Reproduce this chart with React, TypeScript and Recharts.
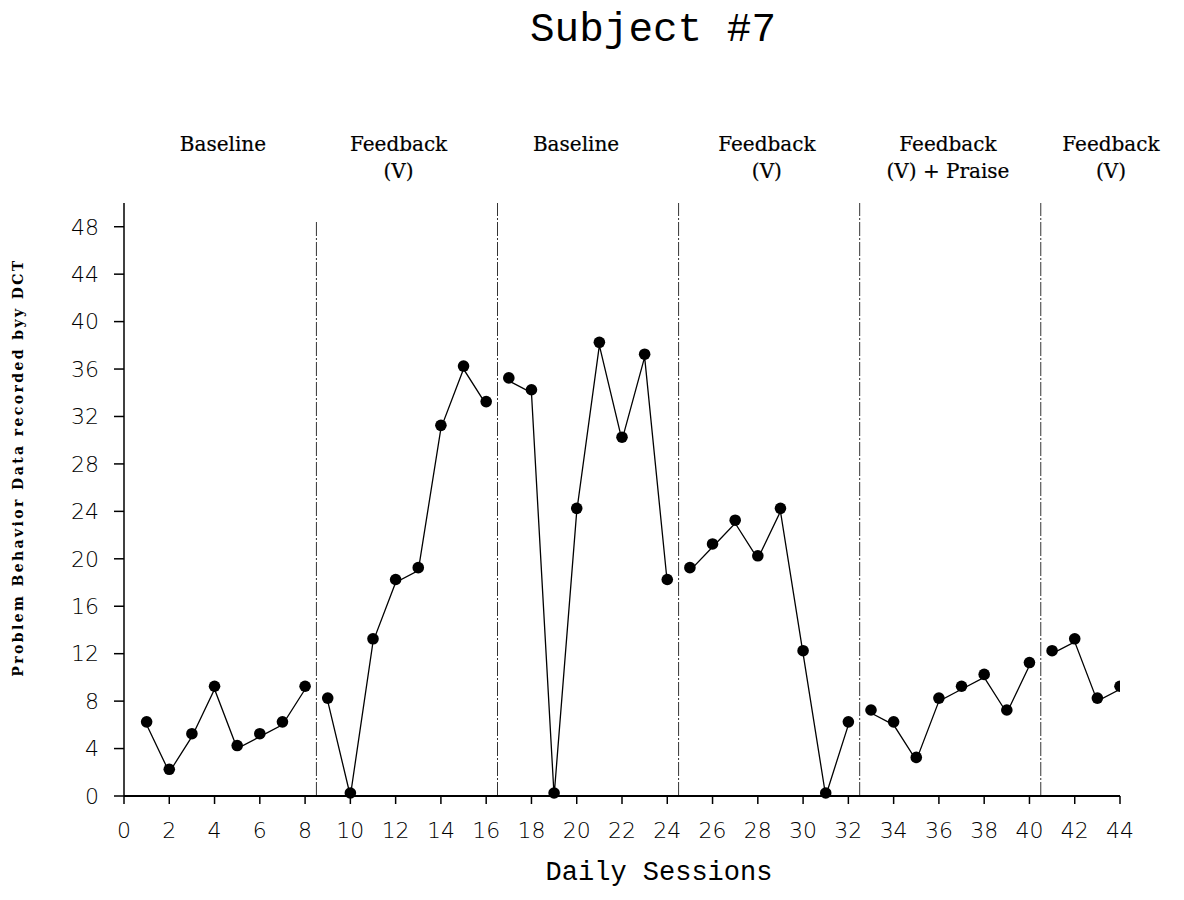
import React from "react";
import { LineChart, Line, XAxis, YAxis, ReferenceLine } from "recharts";

const phase1Sessions = [1, 2, 3, 4, 5, 6, 7, 8];
const phase1Values = [6, 2, 5, 9, 4, 5, 6, 9];
const phase2Sessions = [9, 10, 11, 12, 13, 14, 15, 16];
const phase2Values = [8, 0, 13, 18, 19, 31, 36, 33];
const phase3Sessions = [17, 18, 19, 20, 21, 22, 23, 24];
const phase3Values = [35, 34, 0, 24, 38, 30, 37, 18];
const phase4Sessions = [25, 26, 27, 28, 29, 30, 31, 32];
const phase4Values = [19, 21, 23, 20, 24, 12, 0, 6];
const phase5Sessions = [33, 34, 35, 36, 37, 38, 39, 40];
const phase5Values = [7, 6, 3, 8, 9, 10, 7, 11];
const phase6Sessions = [41, 42, 43, 44];
const phase6Values = [12, 13, 8, 9];

const phaseBoundaries = [8.5, 16.5, 24.5, 32.5, 40.5];
const phaseBoundaryTops = [48.5, 50, 50, 50, 50];
const phaseLabelX = [4.37, 12.13, 19.97, 28.4, 36.4, 43.6];
const phaseLabelLines = [
  ["Baseline"],
  ["Feedback", "(V)"],
  ["Baseline"],
  ["Feedback", "(V)"],
  ["Feedback", "(V) + Praise"],
  ["Feedback", "(V)"],
];

const xTicks = [0, 2, 4, 6, 8, 10, 12, 14, 16, 18, 20, 22, 24, 26, 28, 30, 32, 34, 36, 38, 40, 42, 44];
const yTicks = [0, 4, 8, 12, 16, 20, 24, 28, 32, 36, 40, 44, 48];

const title = "Subject #7";
const xLabel = "Daily Sessions";
const yLabel = "Problem Behavior Data recorded byy DCT";

const toRows = (s: number[], v: number[]) => s.map((x, i) => ({ session: x, value: v[i] }));
const phases = [
  toRows(phase1Sessions, phase1Values),
  toRows(phase2Sessions, phase2Values),
  toRows(phase3Sessions, phase3Values),
  toRows(phase4Sessions, phase4Values),
  toRows(phase5Sessions, phase5Values),
  toRows(phase6Sessions, phase6Values),
];

const tickFont = { fontFamily: "'DejaVu Sans', sans-serif", fontSize: 22, fill: "#000", fontWeight: 300 };

const Dot = (p: any) => {
  if (p.cx == null || p.cy == null) return null;
  return <circle cx={p.cx} cy={p.cy - 3} r={5.8} fill="#000" stroke="none" />;
};

const PhaseLabel = (lines: string[]) => (props: any) => {
  const vb = props.viewBox || {};
  const x = vb.x;
  const top = vb.y;
  return (
    <g>
      {lines.map((t, i) => (
        <text
          key={i}
          x={x}
          y={top - 52 + i * 27}
          textAnchor="middle"
          fontFamily="'DejaVu Serif', serif"
          fontSize={20}
          fill="#000"
          stroke="#000"
          strokeWidth={0.2}
        >
          {t}
        </text>
      ))}
    </g>
  );
};

const YLabel = (props: any) => {
  const vb = props.viewBox || {};
  const cx = 18;
  const cy = vb.y + vb.height / 2 - 32;
  return (
    <text
      x={cx}
      y={cy}
      transform={`rotate(-90, ${cx}, ${cy})`}
      textAnchor="middle"
      dominantBaseline="central"
      fontFamily="'DejaVu Serif', serif"
      fontWeight="bold"
      fontSize={14}
      letterSpacing={2.4}
      fill="#000"
    >
      {yLabel}
    </text>
  );
};

const XLabel = (props: any) => {
  const vb = props.viewBox || {};
  return (
    <text
      x={vb.x + vb.width / 2 + 37}
      y={vb.y + 84}
      textAnchor="middle"
      fontFamily="'Liberation Mono', monospace"
      fontSize={27}
      fill="#000"
    >
      {xLabel}
    </text>
  );
};

export default function App() {
  return (
    <div style={{ position: "absolute", left: 0, top: 0, width: 1184, height: 900, background: "#fff" }}>
      <div
        style={{
          position: "absolute",
          left: 653,
          top: 5,
          transform: "translateX(-50%)",
          fontFamily: "'Liberation Mono', monospace",
          fontSize: 41,
          lineHeight: "50px",
          whiteSpace: "nowrap",
          color: "#000",
        }}
      >
        {title}
      </div>
      <LineChart width={1184} height={900} margin={{ top: 203, right: 64, bottom: 0, left: 24 }}>
        <XAxis
          type="number"
          dataKey="session"
          domain={[0, 44]}
          ticks={xTicks}
          interval={0}
          allowDataOverflow
          height={104}
          tickSize={8}
          tickMargin={18}
          tick={tickFont}
          axisLine={{ stroke: "#000", strokeWidth: 2 }}
          tickLine={{ stroke: "#000", strokeWidth: 1.5 }}
          label={XLabel}
        />
        <YAxis
          type="number"
          domain={[0, 50]}
          ticks={yTicks}
          interval={0}
          width={100}
          tickSize={10}
          tickMargin={15}
          tick={tickFont}
          axisLine={{ stroke: "#000", strokeWidth: 1.5 }}
          tickLine={{ stroke: "#000", strokeWidth: 1.5 }}
          label={YLabel}
        />
        {phaseBoundaries.map((b, i) => (
          <ReferenceLine
            key={"b" + i}
            segment={[
              { x: b, y: 0 },
              { x: b, y: phaseBoundaryTops[i] },
            ]}
            stroke="#333"
            strokeWidth={1}
            strokeDasharray="14 2 2 2"
          />
        ))}
        {phaseLabelX.map((x, i) => (
          <ReferenceLine key={"l" + i} x={x} stroke="none" label={PhaseLabel(phaseLabelLines[i])} />
        ))}
        {phases.map((d, i) => (
          <Line
            key={"p" + i}
            data={d}
            dataKey="value"
            type="linear"
            stroke="#000"
            strokeWidth={1.3}
            dot={<Dot />}
            activeDot={false}
            isAnimationActive={false}
          />
        ))}
      </LineChart>
    </div>
  );
}
